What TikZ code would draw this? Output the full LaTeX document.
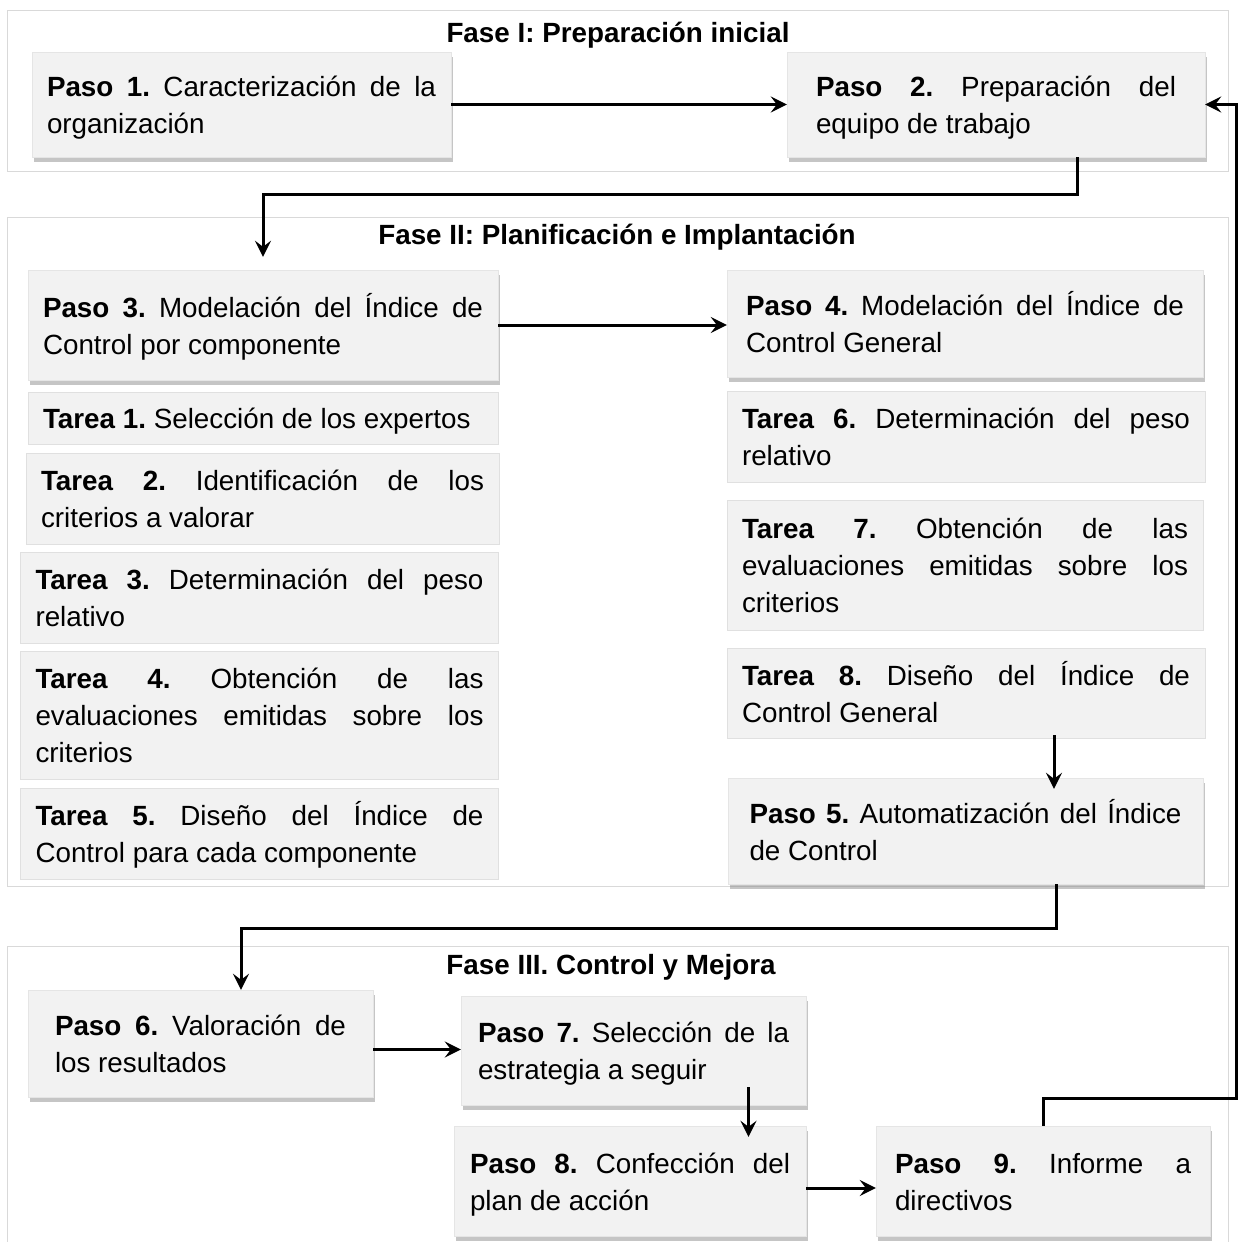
\documentclass[tikz,border=0pt]{standalone}
\usepackage{fontspec}
\setmainfont{Liberation Sans}
\usetikzlibrary{arrows.meta,shadows}
\hyphenpenalty=10000
\tolerance=10000
\frenchspacing

\begin{document}
\begin{tikzpicture}[x=1pt,y=-1pt,
  box/.style={fill=black!5, draw=black!10, inner xsep=15pt, inner ysep=0pt,
    align=justify, font=\fontsize{27.8}{37}\selectfont,
    execute at begin node={\rule{0pt}{28pt}},
    execute at end node={\rule[-7pt]{0pt}{7pt}}},
  paso/.style={box, drop shadow={shadow xshift=2pt, shadow yshift=-5pt, opacity=0.45}},
  tarea/.style={box, draw=black!12},
  boxsize/.style n args={3}{text width=#1pt, minimum width=#2pt, minimum height=#3pt},
  fase/.style={draw=black!15, line width=1pt},
  titulo/.style={font=\bfseries\fontsize{27.8}{30}\selectfont},
  flow/.style={line width=3pt, -{Stealth[length=16pt,width=16pt,inset=6pt]}}]
  \useasboundingbox (0,0) rectangle (1238,1242);
  \fill[white] (0,0) rectangle (1238,1242);
  % fases
  \draw[fase] (7,10) rectangle (1228,171);
  \draw[fase] (7,217) rectangle (1228,886);
  \draw[fase] (7,1250) |- (1228,946) -- (1228,1250);
  \node[titulo] (f1) at (618,35) {Fase I: Preparación inicial};
  \node[titulo] (f2) at (617,237) {Fase II: Planificación e Implantación};
  \node[titulo] (f3) at (611,967) {Fase III. Control y Mejora};
  % fase I
  \node[paso, boxsize={389}{419}{105}] (p1) at (241.5,104.5)
    {\textbf{Paso 1.} Caracterización de la\linebreak organización};
  \node[paso, boxsize={360}{418}{105}] (p2) at (996,104.5)
    {\textbf{Paso 2.} Preparación del\linebreak equipo de trabajo};
  % fase II
  \node[paso, boxsize={440}{470}{110}] (p3) at (263,325)
    {\textbf{Paso 3.} Modelación del Índice de\linebreak Control por componente};
  \node[paso, boxsize={438}{476}{107}] (p4) at (965,323.5)
    {\textbf{Paso 4.} Modelación del Índice de\linebreak Control General};
  \node[tarea, boxsize={440}{470}{52}] (t1) at (263,418)
    {\textbf{Tarea 1.} Selección de los expertos};
  \node[tarea, boxsize={443}{471}{91}] (t2) at (262.5,498.5)
    {\textbf{Tarea 2.} Identificación de los\linebreak criterios a valorar};
  \node[tarea, boxsize={448}{477}{91}] (t3) at (259.5,597.5)
    {\textbf{Tarea 3.} Determinación del peso\linebreak relativo};
  \node[tarea, boxsize={448}{477}{128}] (t4) at (259.5,715)
    {\textbf{Tarea 4.} Obtención de las\linebreak evaluaciones emitidas sobre los\linebreak criterios};
  \node[tarea, boxsize={448}{477}{91}] (t5) at (259.5,833.5)
    {\textbf{Tarea 5.} Diseño del Índice de\linebreak Control para cada componente};
  \node[tarea, boxsize={448}{478}{91}] (t6) at (966,436.5)
    {\textbf{Tarea 6.} Determinación del peso\linebreak relativo};
  \node[tarea, boxsize={446}{476}{130}] (t7) at (965,565)
    {\textbf{Tarea 7.} Obtención de las\linebreak evaluaciones emitidas sobre los\linebreak criterios};
  \node[tarea, boxsize={448}{478}{90}] (t8) at (966,693)
    {\textbf{Tarea 8.} Diseño del Índice de\linebreak Control General};
  \node[paso, boxsize={432}{475}{106}] (p5) at (965.5,831)
    {\textbf{Paso 5.} Automatización del Índice\linebreak de Control};
  % fase III
  \node[paso, boxsize={291}{345}{107}] (p6) at (200.5,1043.5)
    {\textbf{Paso 6.} Valoración de\linebreak los resultados};
  \node[paso, boxsize={311}{345}{109}] (p7) at (633.5,1050.5)
    {\textbf{Paso 7.} Selección de la\linebreak estrategia a seguir};
  \node[paso, boxsize={320}{352}{110}] (p8) at (630,1181)
    {\textbf{Paso 8.} Confección del\linebreak plan de acción};
  \node[paso, boxsize={296}{334}{110}] (p9) at (1043,1181)
    {\textbf{Paso 9.} Informe a\linebreak directivos};
  % flechas
  \coordinate (k1) at (263,194);
  \coordinate (k2) at (241,928);
  \coordinate (k3) at (1236,1098);
  \draw[flow] (p1.east) -- (p2.west);
  \draw[flow] ([xshift=81pt]p2.south) |- (k1) -- ([yshift=13pt]p3.north);
  \draw[flow] (p3.east) -- (p3.east -| p4.west);
  \draw[flow, shorten <=-3pt, shorten >=-11pt] ([xshift=88pt]t8.south) -- ([xshift=88pt]t8.south |- p5.north);
  \draw[flow] ([xshift=90.5pt]p5.south) |- (k2) -- (k2 |- p6.north);
  \draw[flow] ([yshift=-6pt]p6.east) -- ([yshift=-6pt]p6.east -| p7.west);
  \draw[flow, shorten <=-18pt, shorten >=-11pt] ([xshift=115pt]p7.south) -- ([xshift=115pt]p7.south |- p8.north);
  \draw[flow] ([yshift=-7pt]p8.east) -- ([yshift=-7pt]p8.east -| p9.west);
  \draw[flow] (p9.north) |- (k3) |- (p2.east);
\end{tikzpicture}
\end{document}
